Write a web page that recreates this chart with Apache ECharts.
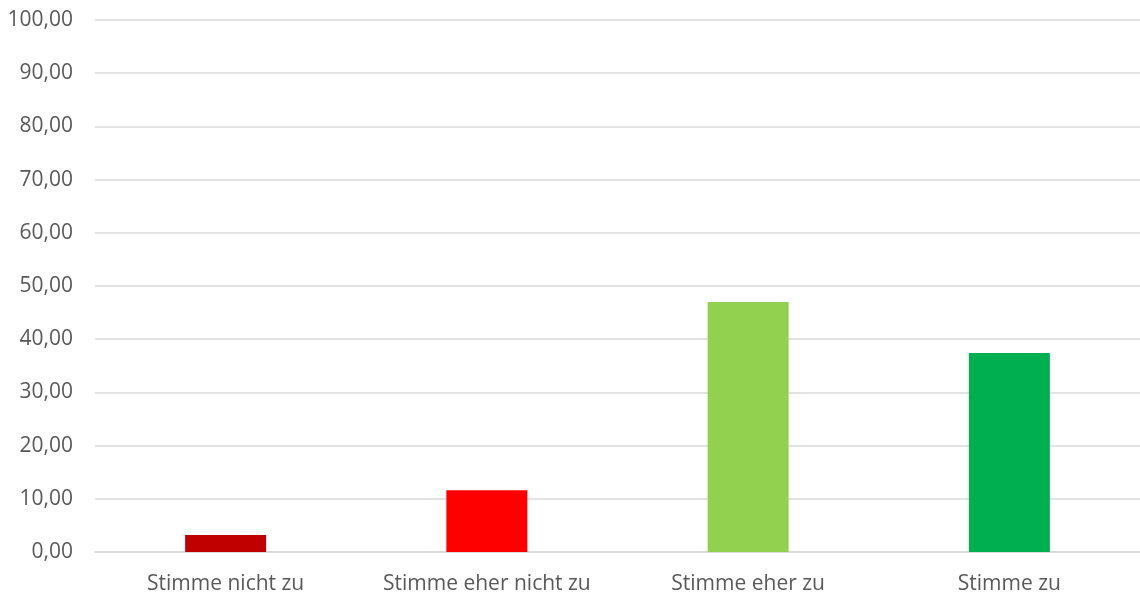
<!DOCTYPE html>
<html><head><meta charset="utf-8">
<script src="https://cdn.jsdelivr.net/npm/echarts@6/dist/echarts.min.js"></script>
<style>html,body{margin:0;padding:0;background:#fff}#c{width:1140px;height:595px}</style>
</head><body><div id="c"></div>
<script>
const categories = ["Stimme nicht zu", "Stimme eher nicht zu", "Stimme eher zu", "Stimme zu"];
const values = [3.2, 11.6, 47.0, 37.4];
const barColors = ["#C00000", "#FF0000", "#92D050", "#00B050"];
const yMin = 0, yMax = 100, yStep = 10;

const chart = echarts.init(document.getElementById('c'), null, {renderer: 'canvas'});
const font = "'Open Sans', sans-serif";
chart.setOption({
  animation: false,
  grid: {left: 95, right: 0, top: 20, bottom: 40, containLabel: false},
  xAxis: {
    type: 'category', data: categories,
    axisLine: {show: true, lineStyle: {color: '#d9d9d9', width: 1.5}},
    axisTick: {show: false},
    axisLabel: {color: '#595959', fontSize: 21, fontFamily: font, margin: 22,
      interval: 0, hideOverlap: false}
  },
  yAxis: {
    type: 'value', min: yMin, max: yMax, interval: yStep,
    axisLine: {show: false}, axisTick: {show: false},
    splitLine: {lineStyle: {color: '#d9d9d9', width: 1.5}},
    axisLabel: {color: '#595959', fontSize: 21, fontFamily: font, margin: 22,
      formatter: v => v.toFixed(2).replace('.', ',')}
  },
  series: [{
    type: 'bar', barWidth: '31%',
    data: values.map((v, i) => ({value: v, itemStyle: {color: barColors[i]}}))
  }]
});
</script></body></html>
